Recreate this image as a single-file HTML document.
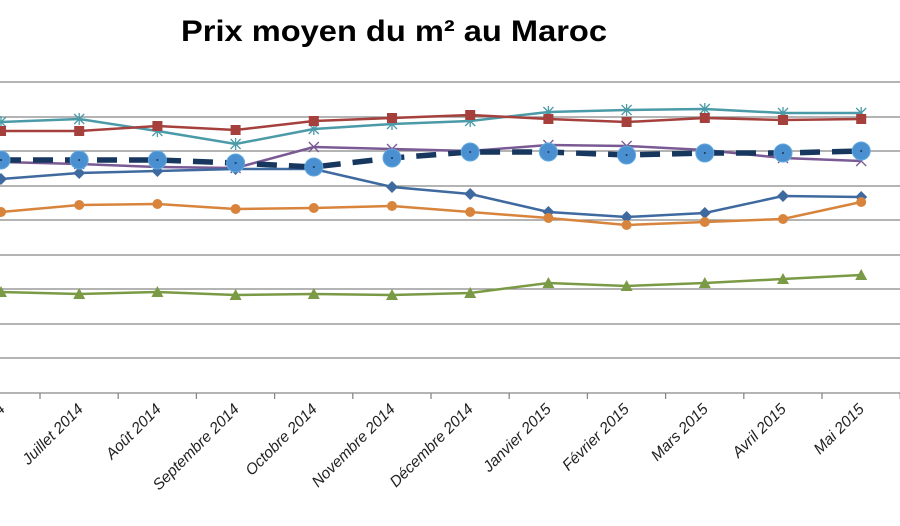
<!DOCTYPE html>
<html><head><meta charset="utf-8"><style>
html,body{margin:0;padding:0;background:#fff;width:900px;height:526px;overflow:hidden}
svg{display:block}
.t{font-family:"Liberation Sans",sans-serif;font-weight:bold;font-size:30px}
.l{font-family:"Liberation Sans",sans-serif;font-style:italic;font-size:15.5px;fill:#222}
</style></head><body>
<svg id="s" width="900" height="526" xmlns="http://www.w3.org/2000/svg">
<text class="t" x="181" y="41" textLength="426" lengthAdjust="spacingAndGlyphs">Prix moyen du m² au Maroc</text>
<g stroke="#888" stroke-width="1.3">
<line x1="0" x2="900" y1="82" y2="82"/><line x1="0" x2="900" y1="117" y2="117"/>
<line x1="0" x2="900" y1="151" y2="151"/><line x1="0" x2="900" y1="186" y2="186"/>
<line x1="0" x2="900" y1="220" y2="220"/><line x1="0" x2="900" y1="255" y2="255"/>
<line x1="0" x2="900" y1="289" y2="289"/><line x1="0" x2="900" y1="324" y2="324"/>
<line x1="0" x2="900" y1="358" y2="358"/><line x1="0" x2="900" y1="393" y2="393"/>
</g>
<g id="ticks" stroke="#888" stroke-width="1.3"></g>
<g id="series"></g>
<g class="l">
<text transform="translate(6,410) rotate(-45)" text-anchor="end">Juin 2014</text>
<text transform="translate(84,410) rotate(-45)" text-anchor="end">Juillet 2014</text>
<text transform="translate(162,410) rotate(-45)" text-anchor="end">Août 2014</text>
<text transform="translate(240,410) rotate(-45)" text-anchor="end">Septembre 2014</text>
<text transform="translate(318,410) rotate(-45)" text-anchor="end">Octobre 2014</text>
<text transform="translate(396,410) rotate(-45)" text-anchor="end">Novembre 2014</text>
<text transform="translate(474,410) rotate(-45)" text-anchor="end">Décembre 2014</text>
<text transform="translate(552,410) rotate(-45)" text-anchor="end">Janvier 2015</text>
<text transform="translate(630,410) rotate(-45)" text-anchor="end">Février 2015</text>
<text transform="translate(709,410) rotate(-45)" text-anchor="end">Mars 2015</text>
<text transform="translate(787,410) rotate(-45)" text-anchor="end">Avril 2015</text>
<text transform="translate(865,410) rotate(-45)" text-anchor="end">Mai 2015</text>
</g>
</svg>
<script>
var NS="http://www.w3.org/2000/svg";
function el(p,n,a){var e=document.createElementNS(NS,n);for(var k in a)e.setAttribute(k,a[k]);p.appendChild(e);return e;}
var tk=document.getElementById("ticks");
for(var i=0;i<12;i++){var x=40+78.2*i;el(tk,"line",{x1:x,x2:x,y1:393,y2:399});}
var X=[];for(i=0;i<12;i++)X.push(1+78.2*i);
var S=[
{c:"#4a9aa8",m:"ast",y:[122,119,131,144,129,124,121,112,110,109,113,113]},
{c:"#a5403d",m:"sq",y:[131,131,126,130,121,118,115,119,122,118,120,119]},
{c:"#7a5a94",m:"x",y:[162,164,167,168,147,149,151,145,146,150,158,161]},
{c:"#3f6aa0",m:"dia",y:[179,173,171,169,169,187,194,212,217,213,196,197]},
{c:"#d8843c",m:"dot",y:[212,205,204,209,208,206,212,218,225,222,219,202]},
{c:"#7b9a45",m:"tri",y:[292,294,292,295,294,295,293,283,286,283,279,275]},
{c:"#17375e",m:"big",y:[160,160,160,163,167,158,152,152,155,153,153,151],dash:true}
];
var g=document.getElementById("series");
S.forEach(function(s){
 var pts=X.map(function(x,i){return x+","+s.y[i]}).join(" ");
 var a={points:pts,fill:"none",stroke:s.c,"stroke-width":s.dash?5.5:2.5};
 if(s.dash)a["stroke-dasharray"]="20 12";
 el(g,"polyline",a);
 X.forEach(function(x,i){var y=s.y[i];
  if(s.m=="sq")el(g,"rect",{x:x-5,y:y-5,width:10,height:10,fill:s.c});
  else if(s.m=="dot")el(g,"circle",{cx:x,cy:y,r:5,fill:s.c});
  else if(s.m=="dia")el(g,"polygon",{points:(x)+","+(y-6)+" "+(x+6)+","+y+" "+x+","+(y+6)+" "+(x-6)+","+y,fill:s.c});
  else if(s.m=="tri")el(g,"polygon",{points:x+","+(y-6)+" "+(x+6)+","+(y+5)+" "+(x-6)+","+(y+5),fill:s.c});
  else if(s.m=="big"){el(g,"circle",{cx:x,cy:y,r:9,fill:"#4a90d0",stroke:"#62aae0","stroke-width":1});el(g,"circle",{cx:x,cy:y,r:1,fill:"#17375e"});}
  else {el(g,"path",{d:"M"+(x-5)+" "+(y-5)+"L"+(x+5)+" "+(y+5)+"M"+(x+5)+" "+(y-5)+"L"+(x-5)+" "+(y+5)+(s.m=="ast"?"M"+x+" "+(y-6)+"V"+(y+6):""),stroke:s.c,"stroke-width":1.3,fill:"none"});}
 });
});
</script>
</body></html>
